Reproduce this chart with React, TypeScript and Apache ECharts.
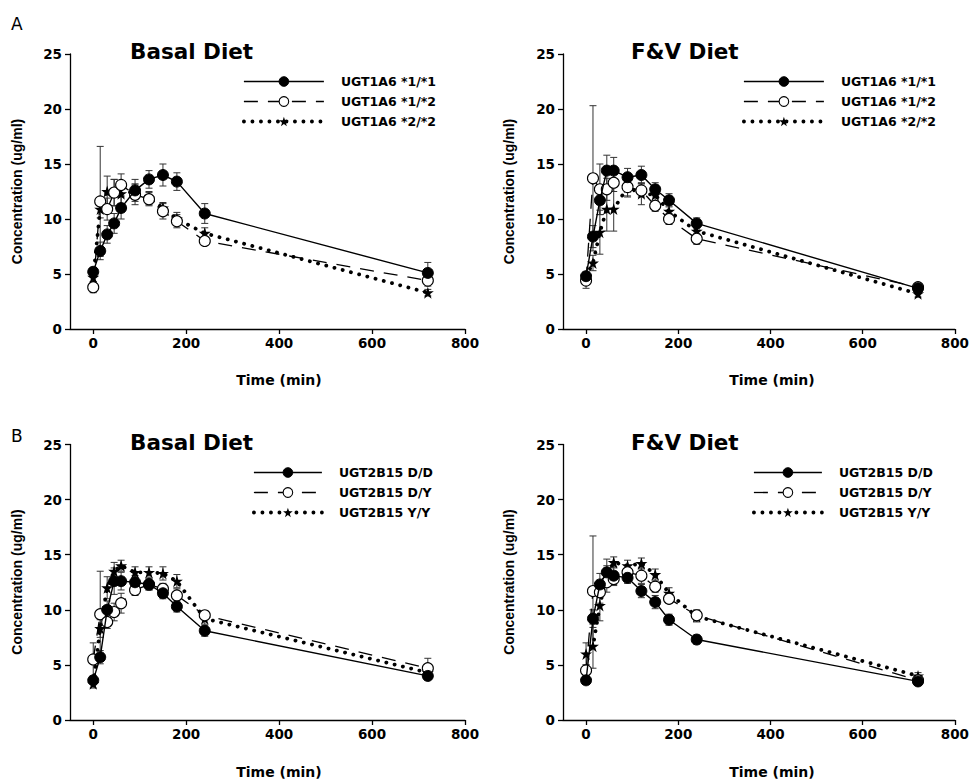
import React, { useEffect, useRef } from 'react';
import * as echarts from 'echarts';

// ---- data ----
const times = [0, 15, 30, 45, 60, 90, 120, 150, 180, 240, 720];
const xTickValues = [0, 200, 400, 600, 800];

const namesA = ['UGT1A6 *1/*1', 'UGT1A6 *1/*2', 'UGT1A6 *2/*2'];
const namesB = ['UGT2B15 D/D', 'UGT2B15 D/Y', 'UGT2B15 Y/Y'];
const panelTitles = ['Basal Diet', 'F&V Diet', 'Basal Diet', 'F&V Diet'];
const panelLetters = ['A', 'B'];

// Panel A, Basal diet
const aBasal11 = [5.2, 7.1, 8.6, 9.6, 11.0, 12.6, 13.6, 14.0, 13.4, 10.5, 5.1];
const aBasal11Err = [0.4, 0.8, 0.8, 0.9, 1.0, 1.0, 0.8, 1.0, 0.8, 0.9, 0.95];
const aBasal12 = [3.8, 11.6, 10.9, 12.4, 13.1, 12.2, 11.8, 10.7, 9.8, 8.0, 4.4];
const aBasal12Err = [0.5, 5.0, 1.0, 1.2, 1.0, 0.9, 0.6, 0.7, 0.6, 0.4, 0.5];
const aBasal22 = [4.7, 10.9, 12.5, 12.4, 12.3, 12.5, 11.9, 11.0, 10.0, 8.7, 3.3];
const aBasal22Err = [0.4, 0.8, 1.4, 1.2, 0.9, 0.7, 0.6, 0.5, 0.6, 0.5, 0.3];

// Panel A, F&V diet
const aFv11 = [4.8, 8.4, 11.7, 14.4, 14.4, 13.8, 14.0, 12.7, 11.7, 9.6, 3.7];
const aFv11Err = [0.3, 1.0, 1.3, 1.4, 1.2, 0.8, 0.8, 0.6, 0.6, 0.5, 0.3];
const aFv12 = [4.4, 13.7, 12.7, 12.7, 13.3, 12.9, 12.6, 11.2, 10.0, 8.2, 3.8];
const aFv12Err = [0.7, 6.6, 2.3, 1.0, 0.8, 0.9, 0.6, 0.5, 0.5, 0.5, 0.3];
const aFv22 = [4.8, 6.0, 8.8, 10.9, 10.9, 12.9, 12.3, 12.2, 10.7, 8.9, 3.2];
const aFv22Err = [0.4, 0.7, 2.0, 2.0, 2.0, 0.8, 1.0, 0.6, 0.5, 0.6, 0.3];

// Panel B, Basal diet
const bBasalDD = [3.6, 5.7, 10.0, 12.6, 12.6, 12.5, 12.3, 11.5, 10.3, 8.1, 4.0];
const bBasalDDErr = [0.3, 0.6, 0.8, 1.2, 0.8, 0.6, 0.5, 0.5, 0.5, 0.5, 0.3];
const bBasalDY = [5.5, 9.6, 8.9, 9.8, 10.6, 11.8, 12.3, 11.9, 11.3, 9.5, 4.7];
const bBasalDYErr = [1.5, 3.9, 0.6, 0.8, 0.9, 0.5, 0.5, 0.5, 0.6, 0.4, 0.9];
const bBasalYY = [3.3, 8.3, 12.0, 13.5, 14.0, 13.4, 13.4, 13.3, 12.6, 9.2, 4.3];
const bBasalYYErr = [0.4, 0.8, 1.0, 0.8, 0.5, 0.5, 0.5, 0.6, 0.6, 0.5, 0.3];

// Panel B, F&V diet
const bFvDD = [3.6, 9.2, 12.3, 13.4, 13.1, 12.9, 11.7, 10.7, 9.1, 7.3, 3.5];
const bFvDDErr = [0.3, 0.8, 1.0, 1.2, 0.8, 0.5, 0.6, 0.6, 0.5, 0.4, 0.3];
const bFvDY = [4.5, 11.7, 11.6, 12.5, 12.8, 13.4, 13.1, 12.1, 11.0, 9.5, 3.6];
const bFvDYErr = [0.5, 5.0, 1.0, 0.9, 0.6, 0.6, 0.7, 0.5, 0.4, 0.5, 0.3];
const bFvYY = [6.0, 6.7, 10.4, 13.2, 14.3, 14.0, 14.2, 13.2, 11.5, 9.4, 4.0];
const bFvYYErr = [1.0, 2.0, 1.4, 0.8, 0.5, 0.5, 0.5, 0.5, 0.5, 0.5, 0.3];

const panelData = [
  { names: namesA, values: [aBasal11, aBasal12, aBasal22], errs: [aBasal11Err, aBasal12Err, aBasal22Err] },
  { names: namesA, values: [aFv11, aFv12, aFv22], errs: [aFv11Err, aFv12Err, aFv22Err] },
  { names: namesB, values: [bBasalDD, bBasalDY, bBasalYY], errs: [bBasalDDErr, bBasalDYErr, bBasalYYErr] },
  { names: namesB, values: [bFvDD, bFvDY, bFvYY], errs: [bFvDDErr, bFvDYErr, bFvYYErr] },
];

// ---- styles ----
const STAR =
  'path://M50,0 L61.2,34.5 L97.6,34.5 L68.2,55.9 L79.4,90.5 L50,69.1 L20.6,90.5 L31.8,55.9 L2.4,34.5 L38.8,34.5 Z';
const FONT = 'DejaVu Sans';

const seriesStyles = [
  {
    symbol: 'circle',
    symbolSize: 11,
    itemStyle: { color: '#000', borderColor: '#000', borderWidth: 1 },
    lineStyle: { color: '#000', width: 1.4, type: 'solid' as any },
    z: 5,
  },
  {
    symbol: 'circle',
    symbolSize: 11,
    itemStyle: { color: '#fff', borderColor: '#000', borderWidth: 1.1 },
    lineStyle: { color: '#000', width: 1.3, type: [14, 10] as any },
    z: 4,
  },
  {
    symbol: STAR,
    symbolSize: 12,
    itemStyle: { color: '#000', borderColor: '#000', borderWidth: 0 },
    lineStyle: { color: '#000', width: 3.8, type: [0.1, 8.4] as any, cap: 'round' as any },
    z: 3,
  },
];

const grids = [
  { left: 70, top: 54, width: 395, height: 275 },
  { left: 563, top: 54, width: 395, height: 275 },
  { left: 70, top: 444.5, width: 395, height: 275.5 },
  { left: 563, top: 444.5, width: 395, height: 275.5 },
];

const legendPos = [
  { left: 242, top: 75, w: 80 },
  { left: 742, top: 75, w: 80 },
  { left: 252, top: 466, w: 68 },
  { left: 752, top: 466, w: 68 },
];

function errRender(params: any, api: any) {
  const x = api.value(0);
  const y = api.value(1);
  const e = api.value(2);
  const top = api.coord([x, y + e]);
  const bot = api.coord([x, y - e]);
  const w = 3.5;
  const st = { stroke: '#333', lineWidth: 1 };
  return {
    type: 'group',
    children: [
      { type: 'line', shape: { x1: top[0], y1: top[1], x2: bot[0], y2: bot[1] }, style: st },
      { type: 'line', shape: { x1: top[0] - w, y1: top[1], x2: top[0] + w, y2: top[1] }, style: st },
      { type: 'line', shape: { x1: bot[0] - w, y1: bot[1], x2: bot[0] + w, y2: bot[1] }, style: st },
    ],
  };
}

function buildOption() {
  const axisLineStyle = { color: '#000', width: 1.3 };
  const labelStyle = { color: '#000', fontFamily: FONT, fontWeight: 'bold' as any, fontSize: 13.5 };

  const xAxis = grids.map((_, i) => ({
    type: 'value',
    gridIndex: i,
    min: -50,
    max: 800,
    axisLine: { show: true, onZero: false, lineStyle: axisLineStyle },
    axisTick: { show: true, length: 5, customValues: xTickValues, lineStyle: axisLineStyle },
    axisLabel: { ...labelStyle, margin: 7, customValues: xTickValues },
    splitLine: { show: false },
  }));

  const yAxis = grids.map((_, i) => ({
    type: 'value',
    gridIndex: i,
    min: 0,
    max: 25,
    interval: 5,
    axisLine: { show: true, onZero: false, lineStyle: axisLineStyle },
    axisTick: { show: true, length: 5, lineStyle: axisLineStyle },
    axisLabel: { ...labelStyle, margin: 8 },
    splitLine: { show: false },
  }));

  const series: any[] = [];
  panelData.forEach((p, gi) => {
    p.values.forEach((vals, si) => {
      const errs = p.errs[si];
      series.push({
        type: 'custom',
        name: p.names[si] + ' err',
        xAxisIndex: gi,
        yAxisIndex: gi,
        renderItem: errRender,
        encode: { x: 0, y: 1 },
        data: times.map((t, k) => [t, vals[k], errs[k]]),
        z: 1,
        silent: true,
      });
    });
    // draw dotted first, then dashed, then solid on top
    [2, 1, 0].forEach((si) => {
      const st = seriesStyles[si];
      series.push({
        type: 'line',
        name: p.names[si],
        xAxisIndex: gi,
        yAxisIndex: gi,
        data: times.map((t, k) => [t, p.values[si][k]]),
        symbol: st.symbol,
        symbolSize: st.symbolSize,
        showSymbol: true,
        itemStyle: st.itemStyle,
        lineStyle: st.lineStyle,
        z: st.z,
        emphasis: { disabled: true },
      });
    });
  });

  const legend = legendPos.map((lp, i) => ({
    orient: 'vertical',
    left: lp.left,
    top: lp.top,
    padding: 0,
    itemWidth: lp.w,
    itemHeight: 12,
    itemGap: 7,
    selectedMode: false,
    textStyle: {
      color: '#000',
      fontFamily: FONT,
      fontWeight: 'bold',
      fontSize: 12.5,
      lineHeight: 12,
      padding: [0, 0, 0, 12],
    },
    data: panelData[i].names.map((n, si) => ({
      name: n,
      itemStyle: seriesStyles[si].itemStyle,
      lineStyle: { ...seriesStyles[si].lineStyle },
    })),
  }));

  const titleText = (x: number, y: number, text: string) => ({
    type: 'text',
    x,
    y,
    style: {
      text,
      fill: '#000',
      font: `bold 21.5px "${FONT}"`,
      textAlign: 'left',
      textVerticalAlign: 'middle',
    },
  });
  const xName = (x: number, y: number) => ({
    type: 'text',
    x,
    y,
    style: {
      text: 'Time (min)',
      fill: '#000',
      font: `bold 14px "${FONT}"`,
      textAlign: 'center',
      textVerticalAlign: 'middle',
    },
  });
  const yName = (x: number, y: number) => ({
    type: 'text',
    x,
    y,
    rotation: Math.PI / 2,
    style: {
      text: 'Concentration (ug/ml)',
      fill: '#000',
      font: 'bold 14px "Liberation Sans"',
      textAlign: 'center',
      textVerticalAlign: 'middle',
    },
  });
  const letter = (x: number, y: number, text: string) => ({
    type: 'text',
    x,
    y,
    style: {
      text,
      fill: '#000',
      font: `17px "${FONT}"`,
      textAlign: 'left',
      textVerticalAlign: 'middle',
    },
  });

  const graphic = [
    letter(11, 24, panelLetters[0]),
    letter(11, 436, panelLetters[1]),
    titleText(130, 51, panelTitles[0]),
    titleText(631, 51, panelTitles[1]),
    titleText(130, 442, panelTitles[2]),
    titleText(631, 442, panelTitles[3]),
    xName(279, 380),
    xName(772, 380),
    xName(279, 772),
    xName(772, 772),
    yName(17, 191.5),
    yName(509, 191.5),
    yName(17, 582),
    yName(509, 582),
  ];

  return {
    animation: false,
    backgroundColor: '#fff',
    grid: grids,
    xAxis,
    yAxis,
    legend,
    graphic,
    series,
  };
}

export default function App() {
  const ref = useRef<HTMLDivElement>(null);
  useEffect(() => {
    if (!ref.current) return;
    const chart = echarts.init(ref.current, undefined, { renderer: 'svg' });
    chart.setOption(buildOption() as any);
    return () => chart.dispose();
  }, []);
  return (
    <div
      ref={ref}
      style={{ position: 'fixed', left: 0, top: 0, width: 972, height: 784, background: '#fff' }}
    />
  );
}
